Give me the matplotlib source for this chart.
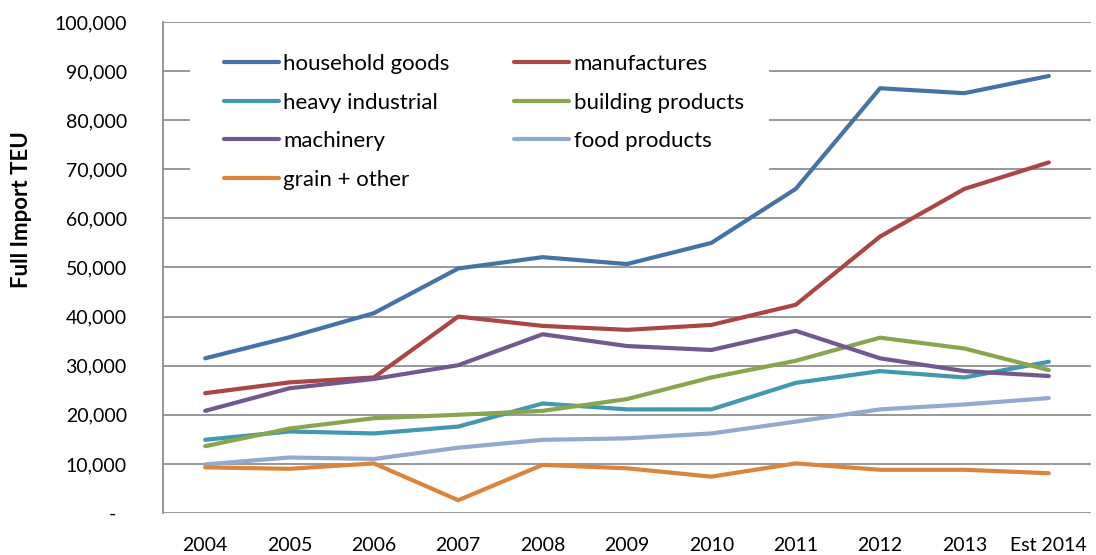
import numpy as np
import matplotlib.pyplot as plt
from matplotlib.patches import Rectangle
from matplotlib.ticker import FuncFormatter

plt.rcParams['font.family'] = ['Lato', 'DejaVu Sans']

years = ['2004', '2005', '2006', '2007', '2008', '2009', '2010', '2011', '2012', '2013', 'Est 2014']

household = [31500, 35800, 40700, 49800, 52100, 50700, 55000, 66000, 86500, 85500, 89000]
manufactures = [24400, 26600, 27600, 40000, 38100, 37300, 38300, 42400, 56300, 66000, 71400]
heavy = [14900, 16600, 16200, 17600, 22300, 21100, 21100, 26500, 28900, 27600, 30800]
building = [13600, 17200, 19300, 20000, 20800, 23200, 27600, 31000, 35700, 33500, 29100]
machinery = [20800, 25400, 27300, 30100, 36400, 34000, 33200, 37100, 31500, 28900, 27900]
food = [9900, 11300, 11000, 13300, 14900, 15200, 16200, 18600, 21100, 22100, 23400]
grain = [9300, 9000, 10100, 2600, 9800, 9100, 7400, 10100, 8800, 8800, 8100]

series = [
    ('household goods', household, '#4572A7'),
    ('manufactures', manufactures, '#AA4643'),
    ('heavy industrial', heavy, '#4198AF'),
    ('building products', building, '#89A54E'),
    ('machinery', machinery, '#71588F'),
    ('food products', food, '#93A9CF'),
    ('grain + other', grain, '#DB843D'),
]

fig = plt.figure(figsize=(10.96, 5.55), dpi=100)
ax = fig.add_axes([0.1487, 0.0757, 0.9954 - 0.1487, 0.9604 - 0.0757])

x = np.arange(len(years))
lines = {}
for name, vals, col in series:
    ln, = ax.plot(x, vals, color=col, lw=3, solid_capstyle='round', label=name, zorder=3)
    lines[name] = ln

ax.set_xlim(-0.5, len(years) - 0.5)
ax.set_ylim(0, 100000)
ax.set_yticks(np.arange(0, 100001, 10000))
ax.yaxis.set_major_formatter(FuncFormatter(lambda v, p: '-  ' if v == 0 else f'{int(v):,}'))
ax.set_xticks(x)
ax.set_xticklabels(years)
ax.tick_params(axis='both', length=0, labelsize=14, colors='black')
ax.tick_params(axis='y', pad=26)
ax.tick_params(axis='x', pad=17)

ax.set_axisbelow(True)
ax.grid(axis='y', color='#868686', lw=1.2)
for s in ['top', 'right', 'bottom']:
    ax.spines[s].set_visible(False)
ax.spines['left'].set_color('#868686')
ax.spines['left'].set_linewidth(1.2)

fig.text(22 / 1096, 1 - 210 / 555, 'Full Import TEU', rotation=90, ha='center', va='center',
         fontsize=16, fontweight='bold')

# white legend area hides the gridlines behind it
ax.add_patch(Rectangle((0.029, 0.6375), 0.624, 0.336, transform=ax.transAxes,
                       facecolor='white', edgecolor='none', zorder=2))

order = ['household goods', 'heavy industrial', 'machinery', 'grain + other',
         'manufactures', 'building products', 'food products']
leg = ax.legend([lines[n] for n in order], order, ncol=2, loc='upper left',
                bbox_to_anchor=(0.0657, 0.935), borderaxespad=0, borderpad=0,
                fontsize=16, frameon=False, handlelength=2.48, handletextpad=0.2,
                columnspacing=2.9, labelspacing=0.84)
leg.set_zorder(5)

fig.savefig('out.png', dpi=100)
